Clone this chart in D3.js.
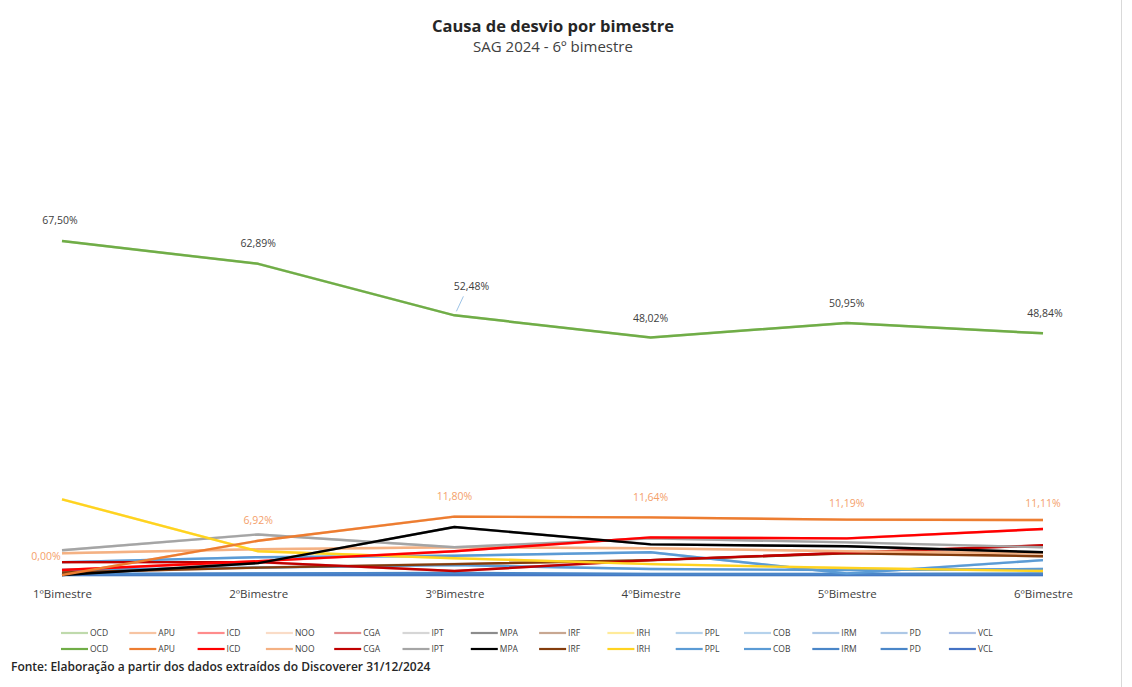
<!DOCTYPE html>
<html><head><meta charset="utf-8">
<script src="https://cdn.jsdelivr.net/npm/d3@7"></script>
<style>body{margin:0;background:#fff}svg{display:block}text{font-family:"Open Sans","Liberation Sans",sans-serif}</style>
</head><body><svg id="c" width="1132" height="687"></svg>
<script>
const categories = ["1ºBimestre","2ºBimestre","3ºBimestre","4ºBimestre","5ºBimestre","6ºBimestre"];
const seriesNames = ["OCD","APU","ICD","NOO","CGA","IPT","MPA","IRF","IRH","PPL","COB","IRM","PD","VCL"];
const OCD = [67.50, 62.89, 52.48, 48.02, 50.95, 48.84];
const APU = [0.00, 6.92, 11.80, 11.64, 11.19, 11.11];
const ICD = [1.0, 2.8, 4.8, 7.6, 7.4, 9.3];
const NOO = [4.4, 5.2, 5.6, 5.4, 4.8, 4.4];
const CGA = [2.6, 2.6, 0.8, 3.0, 4.5, 6.0];
const IPT = [5.0, 8.2, 5.6, 7.4, 6.6, 5.6];
const MPA = [0.0, 2.4, 9.7, 6.2, 5.8, 4.6];
const IRF = [0.5, 1.5, 2.2, 3.0, 4.4, 3.8];
const IRH = [15.3, 4.8, 3.4, 2.2, 1.4, 0.8];
const PPL = [2.6, 3.6, 3.9, 4.6, 0.3, 3.0];
const COB = [1.0, 1.5, 2.0, 1.2, 1.0, 1.2];
const IRM = [0.2, 0.3, 0.4, 0.2, 0.2, 0.3];
const PD  = [0.0, 0.0, 0.0, 0.0, 0.0, 0.0];
const VCL = [0.1, 0.2, 0.1, 0.1, 0.1, 0.1];
const labeledSeries = ["OCD","APU"];
const title = "Causa de desvio por bimestre";
const subtitle = "SAG 2024 - 6º bimestre";
const footer = "Fonte:  Elaboração a partir dos dados extraídos do Discoverer 31/12/2024";

const values = {OCD,APU,ICD,NOO,CGA,IPT,MPA,IRF,IRH,PPL,COB,IRM,PD,VCL};
const colors = {OCD:"#70AD47",APU:"#ED7D31",ICD:"#FF0000",NOO:"#F4B183",CGA:"#C00000",IPT:"#A5A5A5",
  MPA:"#000000",IRF:"#843C0C",IRH:"#FFD320",PPL:"#5B9BD5",COB:"#5B9BD5",IRM:"#4A86C8",PD:"#4A86C8",VCL:"#4472C4"};
const fmt = v => v.toFixed(2).replace(".", ",") + "%";

const svg = d3.select("#c");
svg.append("line").attr("x1",1121.5).attr("x2",1121.5).attr("y1",0).attr("y2",687).attr("stroke","#d9d9d9");

const x = d3.scalePoint().domain(categories).range([62, 1043]);
const y = d3.scaleLinear().domain([0, 80]).range([575, 179.2]);

svg.append("text").attr("x",553).attr("y",32).attr("text-anchor","middle")
  .attr("font-size",16.5).attr("font-weight","bold").attr("fill","#262626").text(title);
svg.append("text").attr("x",553).attr("y",52).attr("text-anchor","middle")
  .attr("font-size",15).attr("fill","#404040").text(subtitle);

// x axis labels
const xa = svg.append("g").attr("transform","translate(0,584)")
  .call(d3.axisBottom(x).tickSize(0).tickPadding(6));
xa.select(".domain").remove();
xa.selectAll("text").attr("font-size",11.5).attr("fill","#404040")
  .attr("font-family","'Open Sans','Liberation Sans',sans-serif");

const line = d3.line().x((d,i)=>x(categories[i])).y(d=>y(d));
const order = ["PD","VCL","IRM","COB","PPL","IRF","CGA","NOO","IPT","IRH","ICD","MPA","APU","OCD"];
// faded series (first legend row)
order.forEach(n=>{
  svg.append("path").datum(values[n]).attr("d",line).attr("fill","none")
    .attr("stroke",colors[n]).attr("stroke-opacity",0.35).attr("stroke-width",2.5);
});
order.forEach(n=>{
  svg.append("path").datum(values[n]).attr("d",line).attr("fill","none")
    .attr("stroke",colors[n]).attr("stroke-width",n==="OCD"?2.5:2.4).attr("stroke-linejoin","round");
});

// data labels
const lblOffsets = {OCD:[[-2,-17],[0,-17],[17,-25],[0,-15],[0,-16],[2,-16]],
                    APU:[[-16,-15],[0,-17],[0,-17],[0,-16],[0,-13],[0,-13]]};
labeledSeries.forEach(n=>{
  values[n].forEach((v,i)=>{
    const o = lblOffsets[n][i];
    svg.append("text").attr("x",x(categories[i])+o[0]).attr("y",y(v)+o[1])
      .attr("text-anchor","middle").attr("font-size",10.5)
      .attr("fill", n==="OCD" ? "#404040" : "#F4A06A").text(fmt(v));
  });
});
// leader line for 52,48%
svg.append("line").attr("x1",x(categories[2])+9).attr("y1",y(OCD[2])-19)
  .attr("x2",x(categories[2])+2).attr("y2",y(OCD[2])-4).attr("stroke","#9DC3E6").attr("stroke-width",1);

// legend
const leg = svg.append("g");
[0,1].forEach(r=>{
  seriesNames.forEach((n,i)=>{
    const lx = 61 + i*68.3, ly = 633 + r*16;
    leg.append("line").attr("x1",lx).attr("x2",lx+27).attr("y1",ly).attr("y2",ly)
      .attr("stroke",colors[n]).attr("stroke-width",2.2).attr("stroke-opacity", r===0?0.45:1);
    leg.append("text").attr("x",lx+29).attr("y",ly+3).attr("font-size",8.5)
      .attr("fill","#404040").text(n);
  });
});

svg.append("text").attr("x",11).attr("y",671).attr("font-size",12).attr("font-weight",600)
  .attr("fill","#262626").text(footer);
</script></body></html>
